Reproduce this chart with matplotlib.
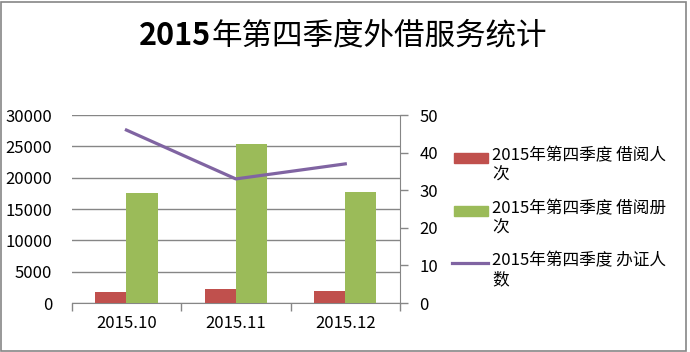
import numpy as np
import matplotlib
matplotlib.use("Agg")
import matplotlib.pyplot as plt
from matplotlib.patches import Rectangle
from matplotlib.lines import Line2D

plt.rcParams['font.family'] = ['Noto Sans CJK SC', 'DejaVu Sans']

# data
months = ['2015.10', '2015.11', '2015.12']
borrow_people = [1750, 2250, 1900]      # 借阅人次
borrow_books = [17600, 25400, 17700]    # 借阅册次
new_cards = [46, 33, 37]                # 办证人数

left_ticks = [0, 5000, 10000, 15000, 20000, 25000, 30000]
right_ticks = [0, 10, 20, 30, 40, 50]

labels = ['2015年第四季度 借阅人\n次', '2015年第四季度 借阅册\n次', '2015年第四季度 办证人\n数']
red = '#C0504D'
green = '#9BBB59'
purple = '#8064A2'
grid_c = '#868686'

W, H = 690, 352
fig = plt.figure(figsize=(W / 100, H / 100), dpi=100)

def fx(px):
    return px / W

def fy(py):
    return 1 - py / H

ax = fig.add_axes([fx(71.7), fy(303), fx(400) - fx(71.7), fy(115) - fy(303)])
x = np.arange(len(months))
bw = 0.285
ax.bar(x - bw / 2, borrow_people, width=bw, color=red, zorder=3)
ax.bar(x + bw / 2, borrow_books, width=bw, color=green, zorder=3)
ax.set_xlim(-0.5, len(months) - 0.5)
ax.set_ylim(0, 30000)
ax.set_yticks(left_ticks)
ax.set_yticklabels([str(t) for t in left_ticks], fontsize=12)
ax.yaxis.grid(True, color=grid_c, linewidth=1.0)
ax.set_axisbelow(True)
ax.tick_params(axis='y', length=0, pad=14)
ax.set_xticks(x)
ax.set_xticklabels(months, fontsize=12)
ax.set_xticks(np.arange(len(months) + 1) - 0.5, minor=True)
ax.tick_params(axis='x', which='major', length=0, pad=9)
ax.tick_params(axis='x', which='minor', length=6, color=grid_c, width=1)
for s in ['left', 'top', 'right']:
    ax.spines[s].set_visible(False)
ax.spines['bottom'].set_color(grid_c)

ax2 = ax.twinx()
ax2.plot(x, new_cards, color=purple, linewidth=2.3, zorder=4)
ax2.set_ylim(0, 50)
ax2.set_yticks(right_ticks)
ax2.set_yticklabels([str(t) for t in right_ticks], fontsize=12)
ax2.tick_params(axis='y', length=6, color=grid_c, width=1, pad=8)
for s in ['left', 'top', 'bottom']:
    ax2.spines[s].set_visible(False)
ax2.spines['right'].set_color(grid_c)

# title: bold digits, regular Chinese
renderer = fig.canvas.get_renderer()
t1 = fig.text(0, fy(36), '2015', fontsize=22, fontweight='bold', ha='left', va='center')
t2 = fig.text(0, fy(36), '年第四季度外借服务统计', fontsize=22, ha='left', va='center')
w1 = t1.get_window_extent(renderer).width
w2 = t2.get_window_extent(renderer).width
start = 343 - (w1 + w2) / 2
t1.set_x(fx(start))
t2.set_x(fx(start + w1))

# legend drawn by hand so the key sits beside the first line of text
ys = [158, 211, 263]
for i, (lab, y) in enumerate(zip(labels, ys)):
    if i < 2:
        fig.add_artist(Rectangle((fx(454), fy(y + 5)), fx(488) - fx(454), fy(y - 5) - fy(y + 5),
                                 color=[red, green][i], transform=fig.transFigure))
    else:
        fig.add_artist(Line2D([fx(452), fx(488)], [fy(y), fy(y)], color=purple,
                              linewidth=2.3, transform=fig.transFigure))
    fig.text(fx(492), fy(y - 11), lab, fontsize=12, ha='left', va='top', linespacing=1.2)

# outer border
fig.add_artist(Rectangle((0.002, 0.004), 0.992, 0.99, fill=False, edgecolor=grid_c,
                         linewidth=1.2, transform=fig.transFigure))

fig.savefig('out.png', dpi=100)
